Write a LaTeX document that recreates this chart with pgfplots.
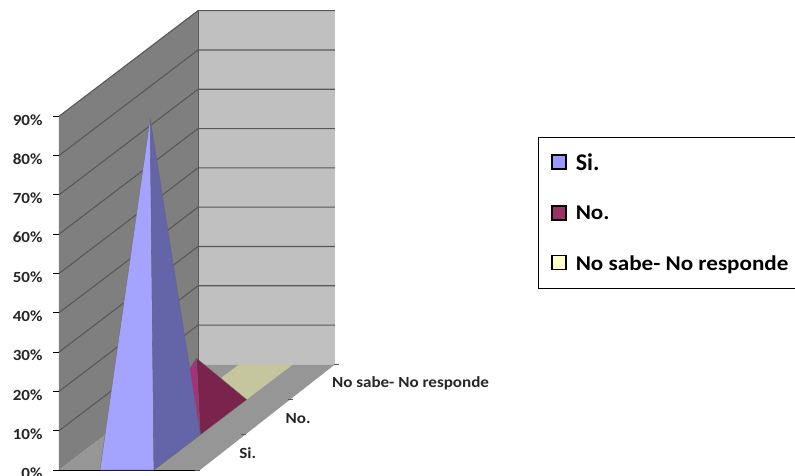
\documentclass[border=0pt]{standalone}
\usepackage{pgfplots}
\pgfplotsset{compat=1.18}
\usepackage{fontspec}
\setmainfont{Carlito}

\definecolor{wallside}{HTML}{7F7F7F}
\definecolor{wallback}{HTML}{C0C0C0}
\definecolor{floorgray}{HTML}{969696}
\definecolor{gridgray}{HTML}{585858}
\definecolor{siLight}{HTML}{A4A4FF}
\definecolor{siDark}{HTML}{6464A8}
\definecolor{noLight}{HTML}{A83078}
\definecolor{noDark}{HTML}{7A234C}
\definecolor{nsFlat}{HTML}{C6C69E}
\definecolor{swSi}{HTML}{9999FF}
\definecolor{swNo}{HTML}{993366}
\definecolor{swNs}{HTML}{FFFFCC}

\newcommand{\axisfont}{\fontsize{15.5}{17}\selectfont\bfseries}
\newcommand{\wide}[1]{\scalebox{1.1}[1]{#1}}

\pgfplotsset{
  swatch/.style={legend image code/.code={
    \draw[black,line width=1.4pt,fill=#1] (0pt,-6pt) rectangle (14pt,8pt);
    \path (21.5pt,0pt);}},
}

\begin{document}
\begin{tikzpicture}
\useasboundingbox (-59pt,-5pt) rectangle (736pt,470pt);
\begin{axis}[
  at={(0pt,0pt)}, anchor=origin,
  x={(1pt,0pt)}, y={(46.33pt,35.2pt)}, z={(0pt,3.93pt)},
  xmin=0, xmax=141, ymin=0, ymax=3, zmin=0, zmax=90,
  clip=false,
  axis lines*=left,
  x axis line style={draw=none},
  y axis line style={draw=none},
  z axis line style={draw=black,line width=0.8pt},
  xtick=\empty, ytick=\empty,
  ztick={0,10,...,90},
  zticklabel={\wide{\pgfmathprintnumber{\tick}\%}},
  /pgf/number format/assume math mode=true,
  major tick length=0pt,
  tick label style={font=\axisfont,color=black!85},
  zticklabel style={anchor=east,xshift=-13pt,yshift=-3.5pt},
  reverse legend,
  legend cell align=left,
  legend style={
    at={(axis cs:479,0,84.7)}, anchor=north west,
    draw=black, line width=0.8pt, fill=white,
    inner xsep=13pt, inner ysep=14.5pt,
    row sep=30pt,
    font=\fontsize{21}{23}\selectfont\bfseries,
  },
]

% side wall, back wall and floor of the 3D box
\addplot3[forget plot,fill=wallside,draw=none] coordinates {(0,0,0)(0,3,0)(0,3,90)(0,0,90)};
\addplot3[forget plot,fill=wallback,draw=none] coordinates {(0,3,0)(137,3,0)(137,3,90)(0,3,90)};
\addplot3[forget plot,fill=floorgray,draw=none] coordinates {(0,0,0)(141,0,0)(137,3,0)(0,3,0)};

% gridlines running along both walls
\pgfplotsinvokeforeach{10,20,30,40,50,60,70,80,90}{
  \addplot3[forget plot,draw=gridgray,line width=1.1pt] coordinates {(0,0,#1)(0,3,#1)(137,3,#1)};
}
\addplot3[forget plot,draw=gridgray,line width=0.8pt] coordinates {(0,3,0)(0,3,90)};
\addplot3[forget plot,draw=black,line width=0.9pt] coordinates {(0,0,0)(141,0,0)};

% horizontal tick stubs on the value axis
\pgfplotsinvokeforeach{0,10,20,30,40,50,60,70,80,90}{
  \addplot3[forget plot,draw=black,line width=0.8pt] coordinates {(-6,0,#1)(0,0,#1)};
}

% category tick stubs on the floor edge
\pgfplotsinvokeforeach{0,1,2,3}{
  \addplot3[forget plot,draw=gridgray,line width=0.8pt] coordinates {(136,#1,0)(141,#1,0)};
}

% No sabe - No responde: a flat footprint at 0 %
\addplot3[fill=nsFlat,draw=none,swatch=swNs] coordinates {(41,2,0)(95,2,0)(95,3,0)(41,3,0)};
\addlegendentry{\wide{No sabe- No responde}}

% No. (15 %)
\addplot3[forget plot,fill=noLight,draw=black!60,line width=0.3pt] coordinates {(41,1,0)(95,1,0)(68,1.5,15)(41,1,0)};
\addplot3[fill=noDark,draw=black!60,line width=0.3pt,swatch=swNo] coordinates {(95,1,0)(95,2,0)(68,1.5,15)(95,1,0)};
\addlegendentry{\wide{No.}}

% Si. (85 %)
\addplot3[forget plot,fill=siLight,draw=black!60,line width=0.3pt] coordinates {(41,0,0)(95,0,0)(68,0.5,85)(41,0,0)};
\addplot3[fill=siDark,draw=black!60,line width=0.3pt,swatch=swSi] coordinates {(95,0,0)(95,1,0)(68,0.5,85)(95,0,0)};
\addlegendentry{\fontsize{24}{25}\selectfont Si.}

% category labels beside the floor edge
\node[anchor=west,font=\axisfont,text=black!85,inner sep=0pt,yshift=-1pt] at (axis cs:157,0.5,0) {\wide{Si.}};
\node[anchor=west,font=\axisfont,text=black!85,inner sep=0pt,yshift=-1pt] at (axis cs:157,1.5,0) {\wide{No.}};
\node[anchor=west,font=\axisfont,text=black!85,inner sep=0pt,yshift=-1pt] at (axis cs:157,2.5,0) {\wide{No sabe- No responde}};
\end{axis}
\end{tikzpicture}
\end{document}
